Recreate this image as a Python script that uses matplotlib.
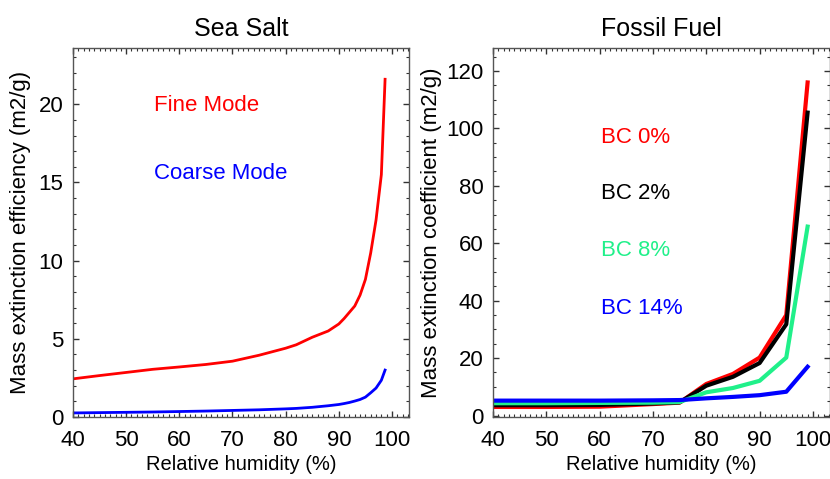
import matplotlib
matplotlib.use("Agg")
import matplotlib.pyplot as plt
from matplotlib.ticker import MultipleLocator

# Data - Sea Salt
rh_ss = [40, 45, 50, 55, 60, 65, 70, 75, 80, 82, 85, 88, 90, 91, 92, 93, 94, 95, 96, 97, 98, 98.7]
fine_mode = [2.44, 2.65, 2.85, 3.05, 3.2, 3.36, 3.57, 3.95, 4.4, 4.62, 5.1, 5.5, 5.95,
             6.3, 6.7, 7.1, 7.8, 8.8, 10.5, 12.6, 15.5, 21.6]
coarse_mode = [0.26, 0.28, 0.3, 0.32, 0.35, 0.38, 0.42, 0.46, 0.52, 0.55, 0.62, 0.72, 0.8,
               0.86, 0.93, 1.02, 1.12, 1.27, 1.55, 1.85, 2.35, 3.0]

# Data - Fossil Fuel
rh_ff = [40, 50, 60, 70, 75, 80, 85, 90, 95, 99]
bc0 = [3.0, 3.0, 3.1, 4.0, 4.5, 11.0, 14.5, 20.2, 35.0, 116.0]
bc2 = [3.6, 3.6, 3.7, 4.2, 4.6, 10.4, 13.5, 18.3, 31.8, 105.5]
bc8 = [4.3, 4.3, 4.4, 4.5, 4.7, 8.1, 9.6, 12.1, 20.2, 65.8]
bc14 = [5.2, 5.2, 5.2, 5.3, 5.4, 6.0, 6.5, 7.1, 8.3, 17.0]

green = "#20f08a"

plt.rcParams['font.family'] = ['Liberation Sans', 'DejaVu Sans']

fig = plt.figure(figsize=(8.3, 4.79), dpi=100)
ax1 = fig.add_axes([73 / 830, 1 - 417 / 479, 336 / 830, 369 / 479])
ax2 = fig.add_axes([493 / 830, 1 - 417 / 479, 337 / 830, 369 / 479])


def style(ax, ymajor, yminor):
    ax.set_xlim(40, 103.2)
    ax.xaxis.set_major_locator(MultipleLocator(10))
    ax.xaxis.set_minor_locator(MultipleLocator(1))
    ax.yaxis.set_major_locator(MultipleLocator(ymajor))
    ax.yaxis.set_minor_locator(MultipleLocator(yminor))
    ax.tick_params(which='both', direction='in', top=True, right=True,
                   labelsize=16, color='#333333')
    ax.tick_params(which='major', length=4, width=1, pad=7)
    ax.tick_params(axis='x', which='major', pad=9)
    ax.tick_params(which='minor', length=2.2, width=0.8)
    for s in ax.spines.values():
        s.set_color('#555555')
        s.set_linewidth(1)
    ax.set_xlabel("Relative humidity (%)", fontsize=14.5, labelpad=3)


# Sea Salt
ax1.plot(rh_ss, fine_mode, color='red', lw=2)
ax1.plot(rh_ss, coarse_mode, color='blue', lw=2)
style(ax1, 5, 1)
ax1.set_ylim(0, 23.6)
ax1.set_title("Sea Salt", fontsize=18, pad=9)
ax1.set_ylabel("Mass extinction efficiency (m2/g)", fontsize=16, labelpad=5)
ax1.text(55.2, 19.9, "Fine Mode", color='red', fontsize=16, va='center')
ax1.text(55.2, 15.6, "Coarse Mode", color='blue', fontsize=16, va='center')

# Fossil Fuel
ax2.plot(rh_ff, bc0, color='red', lw=3)
ax2.plot(rh_ff, bc2, color='black', lw=3)
ax2.plot(rh_ff, bc8, color=green, lw=3)
ax2.plot(rh_ff, bc14, color='blue', lw=3)
style(ax2, 20, 5)
ax2.set_ylim(-0.5, 128)
ax2.set_title("Fossil Fuel", fontsize=18, pad=9)
ax2.set_ylabel("Mass extinction coefficient (m2/g)", fontsize=16, labelpad=3)
ax2.text(60.2, 96.9, "BC 0%", color='red', fontsize=16, va='center')
ax2.text(60.2, 77.4, "BC 2%", color='black', fontsize=16, va='center')
ax2.text(60.2, 57.6, "BC 8%", color=green, fontsize=16, va='center')
ax2.text(60.2, 37.4, "BC 14%", color='blue', fontsize=16, va='center')

fig.savefig("out.png", dpi=100)
